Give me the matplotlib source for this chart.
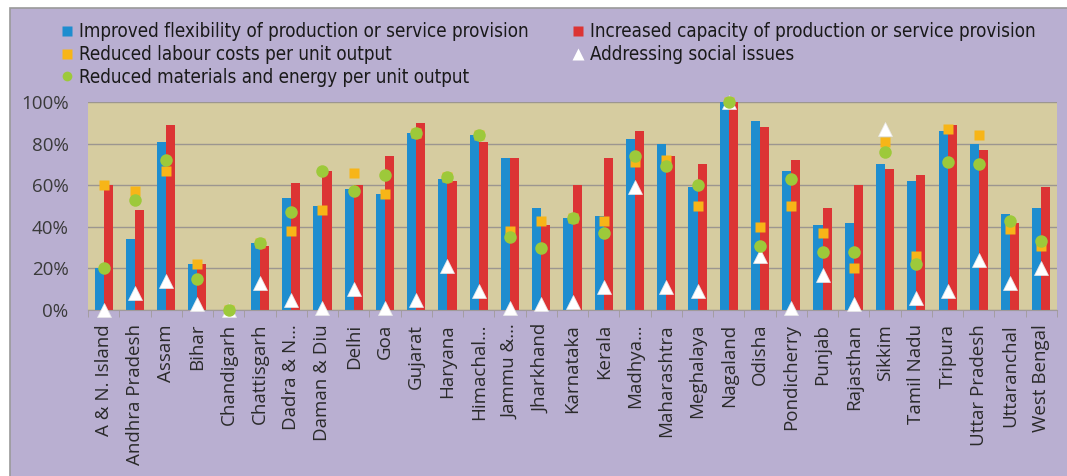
import matplotlib
matplotlib.use("Agg")
import matplotlib.pyplot as plt
from matplotlib.patches import Rectangle
from matplotlib.lines import Line2D
import numpy as np

states = ["A & N. Island", "Andhra Pradesh", "Assam", "Bihar", "Chandigarh",
          "Chattisgarh", "Dadra & N…", "Daman & Diu", "Delhi", "Goa", "Gujarat",
          "Haryana", "Himachal…", "Jammu &…", "Jharkhand", "Karnataka", "Kerala",
          "Madhya…", "Maharashtra", "Meghalaya", "Nagaland", "Odisha",
          "Pondicherry", "Punjab", "Rajasthan", "Sikkim", "Tamil Nadu", "Tripura",
          "Uttar Pradesh", "Uttaranchal", "West Bengal"]

flexibility = [20, 34, 81, 22, 0, 32, 54, 50, 58, 56, 85, 63, 84, 73, 49, 44, 45,
               82, 80, 59, 100, 91, 67, 41, 42, 70, 62, 86, 80, 46, 49]
capacity = [60, 48, 89, 22, 0, 31, 61, 67, 60, 74, 90, 62, 81, 73, 41, 60, 73,
            86, 74, 70, 100, 88, 72, 49, 60, 68, 65, 89, 77, 42, 59]
labour = [60, 57, 67, 22, 0, 32, 38, 48, 66, 56, 85, 64, 84, 38, 43, 44, 43,
          71, 72, 50, 100, 40, 50, 37, 20, 81, 26, 87, 84, 39, 31]
social = [0, 8, 14, 3, 0, 13, 5, 1, 10, 1, 5, 21, 9, 1, 3, 4, 11,
          59, 11, 9, 100, 26, 1, 17, 3, 87, 6, 9, 24, 13, 20]
materials = [20, 53, 72, 15, 0, 32, 47, 67, 57, 65, 85, 64, 84, 35, 30, 44, 37,
             74, 69, 60, 100, 31, 63, 28, 28, 76, 22, 71, 70, 43, 33]

series_names = ["Improved flexibility of production or service provision",
                "Increased capacity of production or service provision",
                "Reduced labour costs per unit output",
                "Addressing social issues",
                "Reduced materials and energy per unit output"]
yticks = [0, 20, 40, 60, 80, 100]

BLUE = "#1e8dcf"
RED = "#dc3434"
ORANGE = "#f7b518"
GREEN = "#9dc93a"
LAV = "#b9afd1"
TAN = "#d6cca0"
GRID = "#9c9690"

W, H = 1067, 476
fig = plt.figure(figsize=(W / 100, H / 100), dpi=100, facecolor="white")
fig.patches.append(Rectangle((10 / W, -0.01), 1.1, 1 - 8 / H + 0.01,
                             transform=fig.transFigure, facecolor=LAV,
                             edgecolor="#9a9a9a", linewidth=1.2, zorder=-5))

ax = fig.add_axes([88 / W, 1 - 310 / H, (1057 - 88) / W, 208 / H])
ax.set_zorder(2)
ax.set_facecolor(TAN)
x = np.arange(len(states))
bw = 0.29
ax.bar(x - bw / 2, flexibility, width=bw, color=BLUE, zorder=2)
ax.bar(x + bw / 2, capacity, width=bw, color=RED, zorder=2)
ax.plot(x, labour, ls="none", marker="s", ms=7.5, color=ORANGE, mec="none",
        zorder=3, clip_on=False)
ax.plot(x, social, ls="none", marker="^", ms=10.5, color="white", mec="#e8e8e8",
        mew=0.5, zorder=4, clip_on=False)
ax.plot(x, materials, ls="none", marker="o", ms=9, color=GREEN, mec="none",
        zorder=5, clip_on=False)

ax.set_xlim(-0.5, len(states) - 0.5)
ax.set_ylim(0, 100)
ax.set_yticks(yticks)
ax.set_yticklabels([f"{v}%" for v in yticks], fontsize=13.5, color="#3a3a3a",
                   family="Open Sans")
ax.yaxis.grid(True, color=GRID, linewidth=1.0, zorder=1)
ax.set_axisbelow(True)
ax.set_xticks(x)
ax.set_xticklabels(states, rotation=90, fontsize=13.5, color="#2a2a2a",
                   family="Open Sans")
ax.set_xticks(np.arange(len(states) + 1) - 0.5, minor=True)
ax.tick_params(axis="x", which="major", length=0, pad=10)
ax.tick_params(axis="x", which="minor", length=5, color="#a09a9a")
ax.tick_params(axis="y", length=0, pad=14)
for s in ["top", "right", "left"]:
    ax.spines[s].set_visible(False)
ax.spines["bottom"].set_color("#a09a9a")

handles = [
    Line2D([], [], ls="none", marker="s", ms=7, color=BLUE, mec="none"),
    Line2D([], [], ls="none", marker="s", ms=7, color=ORANGE, mec="none"),
    Line2D([], [], ls="none", marker="o", ms=7, color=GREEN, mec="none"),
    Line2D([], [], ls="none", marker="s", ms=7, color=RED, mec="none"),
    Line2D([], [], ls="none", marker="^", ms=8, color="white", mec="none"),
]
labels = [series_names[0], series_names[2], series_names[4],
          series_names[1], series_names[3]]
fig.legend(handles, labels, loc="upper left", bbox_to_anchor=(52 / W, 1 - 13 / H),
           ncol=2, frameon=False, handlelength=0.6, handletextpad=0.35,
           columnspacing=2.3, labelspacing=0.2,
           prop={"family": "DejaVu Sans", "stretch": "condensed", "size": 13.5},
           labelcolor="#1a1a1a", borderpad=0)

fig.savefig("out.png", dpi=100, facecolor=fig.get_facecolor())
